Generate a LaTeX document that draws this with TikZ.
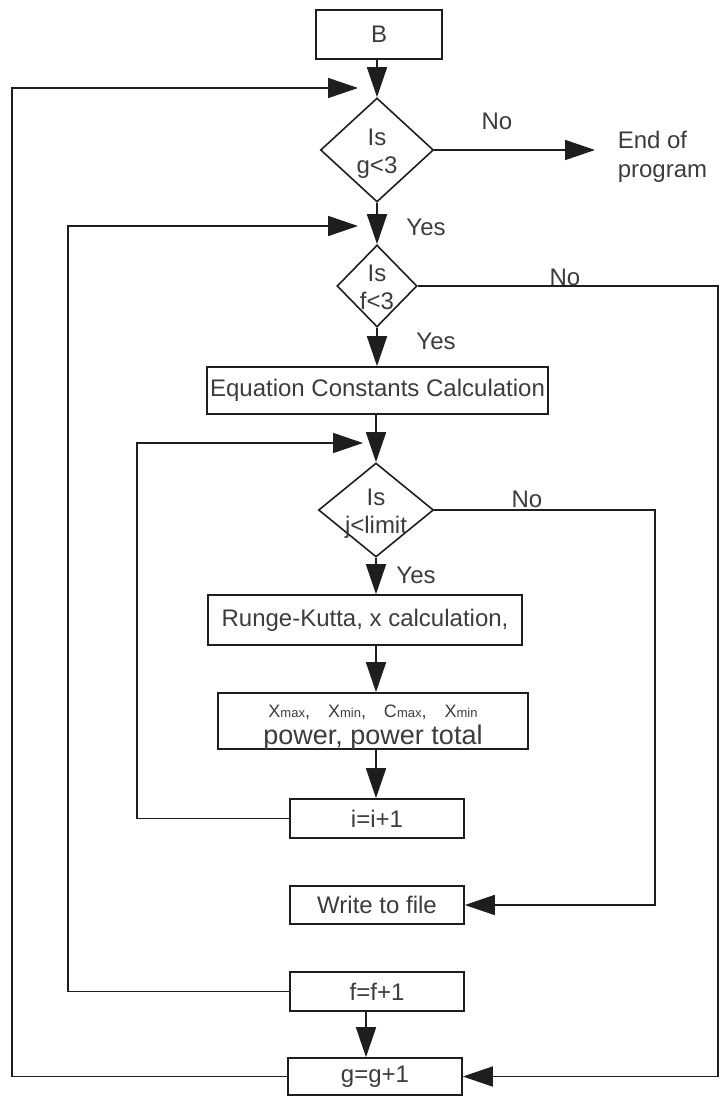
\documentclass[tikz,border=0pt]{standalone}
\usepackage{fontspec}
\setmainfont{Liberation Sans}
\usetikzlibrary{arrows.meta,shapes.geometric}
\definecolor{ln}{RGB}{30,30,30}
\definecolor{tx}{RGB}{60,60,60}
\newcommand\dlab[2]{\makebox[0pt]{\raisebox{5pt}[0pt][0pt]{#1}}\makebox[0pt]{\raisebox{-23pt}[0pt][0pt]{#2}}}
\newcommand\sbx[1]{{\fontsize{13}{13}\selectfont #1}}
\begin{document}
\begin{tikzpicture}[x=1pt,y=-1pt,line width=1.6pt,
  font=\fontsize{24}{29}\selectfont,
  box/.style={draw=ln,rectangle,inner sep=0pt,text=tx},
  dia/.style={draw=ln,diamond,inner sep=0pt,text=tx},
  arr/.style={draw=ln,-{Triangle[length=30pt,width=20pt]}},
  lab/.style={anchor=base,inner sep=0pt,text=tx}]
\useasboundingbox (0,0) rectangle (721,1097);
\node[box,minimum width=126pt,minimum height=49pt] (B) at (379,34.5) {B};
\node[dia,minimum width=113pt,minimum height=104pt] (g) at (377,150) {\dlab{Is}{g<3}};
\node[anchor=west,inner sep=0pt,align=left,text=tx] (end) at (617,157) {End of\\program};
\node[dia,minimum width=80pt,minimum height=82pt] (f) at (377,286) {\dlab{Is}{f<3}};
\node[box,minimum width=341pt,minimum height=47pt] (eq) at (377.5,390.5) {Equation Constants Calculation};
\node[dia,minimum width=115pt,minimum height=94pt] (j) at (376,510) {\dlab{Is}{j<limit}};
\node[box,minimum width=314pt,minimum height=50pt] (rk) at (365,620) {Runge-Kutta, x calculation,};
\node[box,minimum width=310pt,minimum height=56pt] (xb) at (373,721)
  {\makebox[0pt]{\raisebox{4pt}[0pt][0pt]{\fontsize{18}{20}\selectfont X\sbx{max},\hspace{18pt}X\sbx{min},\hspace{18pt}C\sbx{max},\hspace{18pt}X\sbx{min}}}%
   \makebox[0pt]{\raisebox{-23pt}[0pt][0pt]{\fontsize{27}{30}\selectfont power, power total}}};
\node[box,minimum width=174pt,minimum height=39pt] (ib) at (377,818.5) {i=i+1};
\node[box,minimum width=174pt,minimum height=38pt] (wf) at (377,905) {Write to file};
\node[box,minimum width=174pt,minimum height=39pt] (fb) at (377,991.5) {f=f+1};
\node[box,minimum width=174pt,minimum height=37pt] (gg) at (375,1076.5) {g=g+1};
\coordinate (gin) at (358,88);
\coordinate (fin) at (358,226);
\coordinate (jin) at (363,443);
% main flow
\draw[arr] (g.north |- B.south) -- (g.north);
\draw[arr] (g.east) -- ([xshift=-22pt]end.west |- g.east);
\node[lab] at (497,130) {No};
\draw[arr] (g.south) -- (f.north);
\node[lab] at (426,235) {Yes};
\draw[arr] (f.south) -- (f.south |- eq.north);
\node[lab] at (436,349) {Yes};
\draw[arr] (j.north |- eq.south) -- (j.north);
\draw[arr] (j.south) -- (j.south |- rk.north);
\node[lab] at (416,583) {Yes};
\draw[arr] (j.south |- rk.south) -- (j.south |- xb.north);
\draw[arr] (j.south |- xb.south) -- (j.south |- ib.north);
\draw[arr] ([xshift=-11pt]fb.south) -- ([xshift=-11pt]fb.south |- gg.north);
% loops
\draw[arr] (ib.west) -| (137,443) -- (jin);
\draw[arr] (fb.west) -| (68,226) -- (fin);
\draw[arr] (gg.west) -| (12,88) -- (gin);
% no branches
\draw[arr] (j.east) -- (655,510) |- (wf.east);
\node[lab] at (527,507) {No};
\draw[arr] (f.east) -- (718,286) |- (gg.east);
\node[lab] at (565,285) {No};
\end{tikzpicture}
\end{document}
